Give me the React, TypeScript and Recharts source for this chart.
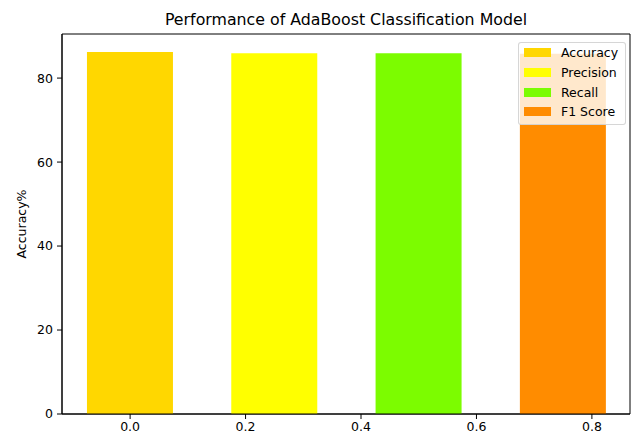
import React from 'react';
import { Bar, BarChart, Legend, ReferenceArea, XAxis, YAxis } from 'recharts';

const metrics = ['Accuracy', 'Precision', 'Recall', 'F1 Score'];
const metricKeys = ['accuracy', 'precision', 'recall', 'f1'];
const positions = [0, 0.25, 0.5, 0.75];
const scores = [86.2, 85.9, 85.9, 85.8];
const colors = ['#FFD700', '#FFFF00', '#7CFC00', '#FF8C00'];
const xTicks = [0, 0.2, 0.4, 0.6, 0.8];
const yTicks = [0, 20, 40, 60, 80];
const xDomain = [-0.118, 0.866];
const yDomain = [0, 90.5];

// one row per bar, each row only fills its own series key
const rows = positions.map((x, i) => ({ x, [metricKeys[i]]: scores[i] }));

const FONT = 'DejaVu Sans, sans-serif';
const tickStyle = { fill: '#000', fontSize: 12.5, fontFamily: FONT };

const LegendBox = () => (
  <div
    style={{
      background: 'rgba(255,255,255,0.8)',
      border: '1px solid rgba(204,204,204,0.8)',
      borderRadius: 3,
      padding: '0px 6px 2px 5px',
      fontFamily: FONT,
      fontSize: 12.5,
      color: '#000',
    }}
  >
    {metrics.map((name, i) => (
      <div key={name} style={{ display: 'flex', alignItems: 'center', height: 19.7 }}>
        <span style={{ width: 27, height: 9, background: colors[i], marginRight: 10 }} />
        <span>{name}</span>
      </div>
    ))}
  </div>
);

const YLabel = (props: any) => {
  const vb = props.viewBox || { x: 0, y: 34, width: 62, height: 380 };
  const cx = vb.x + 21;
  const cy = vb.y + vb.height / 2;
  return (
    <text
      x={cx}
      y={cy}
      transform={`rotate(-90, ${cx}, ${cy})`}
      textAnchor='middle'
      dominantBaseline='central'
      style={{ fontSize: 12.5, fontFamily: FONT, fill: '#000' }}
    >
      Accuracy%
    </text>
  );
};

const App = () => {
  return (
    <div style={{ position: 'absolute', left: 0, top: 0, width: 635, height: 436, background: '#fff' }}>
      <div
        style={{
          position: 'absolute',
          left: 62,
          top: 12,
          width: 568,
          textAlign: 'center',
          fontFamily: FONT,
          fontSize: 15.8,
          lineHeight: '15.8px',
          color: '#000',
          zIndex: 2,
        }}
      >
        Performance of AdaBoost Classification Model
      </div>
      <BarChart
        width={635}
        height={436}
        data={rows}
        margin={{ top: 34, right: 5, left: 0, bottom: 0 }}
        barSize={86}
      >
        <XAxis
          dataKey='x'
          type='number'
          domain={xDomain}
          allowDataOverflow
          ticks={xTicks}
          tickFormatter={(v: number) => v.toFixed(1)}
          tick={tickStyle}
          tickSize={5}
          tickMargin={3}
          height={22}
          stroke='#000'
          interval={0}
        />
        <YAxis
          type='number'
          domain={yDomain}
          allowDataOverflow
          ticks={yTicks}
          tick={tickStyle}
          tickSize={5}
          tickMargin={4}
          width={62}
          stroke='#000'
          interval={0}
          label={YLabel}
        />
        {metricKeys.map((key, i) => (
          <Bar
            key={key}
            dataKey={key}
            name={metrics[i]}
            stackId='a'
            fill={colors[i]}
            isAnimationActive={false}
          />
        ))}
        {/* frame for the top and right spines */}
        <ReferenceArea
          x1={xDomain[0]}
          x2={xDomain[1]}
          y1={yDomain[0]}
          y2={yDomain[1]}
          fill='none'
          stroke='#000'
          strokeWidth={1}
          fillOpacity={0}
        />
        <Legend
          layout='vertical'
          align='center'
          verticalAlign='middle'
          content={() => <LegendBox />}
          wrapperStyle={{ top: 42, left: 518, width: 108, zIndex: 3 }}
        />
      </BarChart>
    </div>
  );
};

export default App;
